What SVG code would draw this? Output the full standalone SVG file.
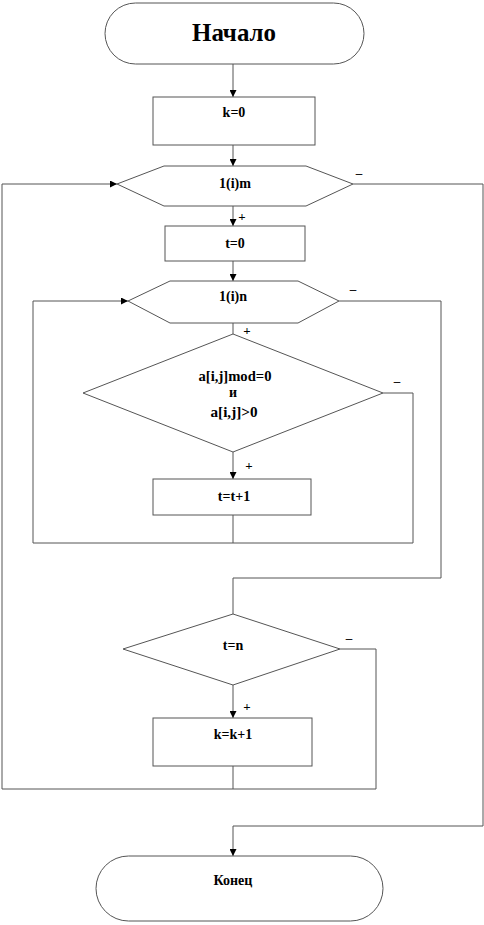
<svg xmlns="http://www.w3.org/2000/svg" width="484" height="925" viewBox="0 0 484 925">
<style>
.s{fill:#fff;stroke:#555;stroke-width:1}
.c{fill:none;stroke:#555;stroke-width:1}
text{font-family:'Liberation Serif','DejaVu Serif',serif;font-weight:700;fill:#000;text-anchor:middle}
.t{font-size:14px}
.l{font-size:13px}
</style>
<defs>
<marker id="a" viewBox="0 0 8 8" refX="8" refY="4" markerWidth="7" markerHeight="7" orient="auto" markerUnits="userSpaceOnUse">
<path d="M0,0 L8,4 L0,8 Z" fill="#000"/>
</marker>
</defs>
<rect width="484" height="925" fill="#fff"/>
<g id="connectors">
<line class="c" x1="233" y1="64" x2="233" y2="97" marker-end="url(#a)"/>
<line class="c" x1="233" y1="145" x2="233" y2="166" marker-end="url(#a)"/>
<line class="c" x1="233" y1="206" x2="233" y2="226" marker-end="url(#a)"/>
<line class="c" x1="233" y1="261" x2="233" y2="281" marker-end="url(#a)"/>
<line class="c" x1="233" y1="323" x2="233" y2="334"/>
<line class="c" x1="233" y1="452" x2="233" y2="479" marker-end="url(#a)"/>
<line class="c" x1="233" y1="515" x2="233" y2="543"/>
<polyline class="c" points="383,393 413,393 413,543 33,543 33,301 128,301" marker-end="url(#a)"/>
<polyline class="c" points="339,301 441,301 441,578 233,578 233,614"/>
<line class="c" x1="233" y1="685" x2="233" y2="718" marker-end="url(#a)"/>
<line class="c" x1="233" y1="766" x2="233" y2="789"/>
<polyline class="c" points="340,649 376,649 376,789 2,789 2,184 117,184" marker-end="url(#a)"/>
<polyline class="c" points="353,184 483,184 483,826 233,826 233,856" marker-end="url(#a)"/>
<text class="l" x="242" y="221">+</text>
<text class="l" x="247" y="335">+</text>
<text class="l" x="249" y="470">+</text>
<text class="l" x="247" y="711">+</text>
<text class="l" x="359" y="177">–</text>
<text class="l" x="353" y="293">–</text>
<text class="l" x="397" y="385">–</text>
<text class="l" x="349" y="642">–</text>
</g>
<g id="start">
<rect class="s" x="105" y="3" width="259" height="61" rx="30.5"/>
<text x="234" y="41" font-size="26" textLength="84" lengthAdjust="spacingAndGlyphs">Начало</text>
</g>
<g id="k0">
<rect class="s" x="153" y="97" width="162" height="48"/>
<text class="t" x="234" y="117">k=0</text>
</g>
<g id="loop-i">
<polygon class="s" points="117,184 164,166 306,166 353,184 306,206 164,206"/>
<text class="t" x="235" y="188" textLength="32" lengthAdjust="spacingAndGlyphs">1(i)m</text>
</g>
<g id="t0">
<rect class="s" x="165" y="226" width="140" height="35"/>
<text class="t" x="235" y="248">t=0</text>
</g>
<g id="loop-j">
<polygon class="s" points="128,301 170,281 298,281 339,301 298,323 170,323"/>
<text class="t" x="233" y="301" textLength="28" lengthAdjust="spacingAndGlyphs">1(i)n</text>
</g>
<g id="cond1">
<polygon class="s" points="233,334 383,393 233,452 83,393"/>
<text class="t" x="235" y="381" textLength="73" lengthAdjust="spacingAndGlyphs">a[i,j]mod=0</text>
<text class="t" x="233" y="397">и</text>
<text class="t" x="234" y="417" textLength="47" lengthAdjust="spacingAndGlyphs">a[i,j]&gt;0</text>
</g>
<g id="inc-t">
<rect class="s" x="153" y="479" width="158" height="36"/>
<text class="t" x="234" y="501">t=t+1</text>
</g>
<g id="cond2">
<polygon class="s" points="233,614 340,649 233,685 123,649"/>
<text class="t" x="233" y="650">t=n</text>
</g>
<g id="inc-k">
<rect class="s" x="153" y="718" width="159" height="48"/>
<text class="t" x="233" y="739">k=k+1</text>
</g>
<g id="end">
<rect class="s" x="96" y="856" width="287" height="65" rx="32.5"/>
<text class="t" x="233" y="885">Конец</text>
</g>
</svg>
